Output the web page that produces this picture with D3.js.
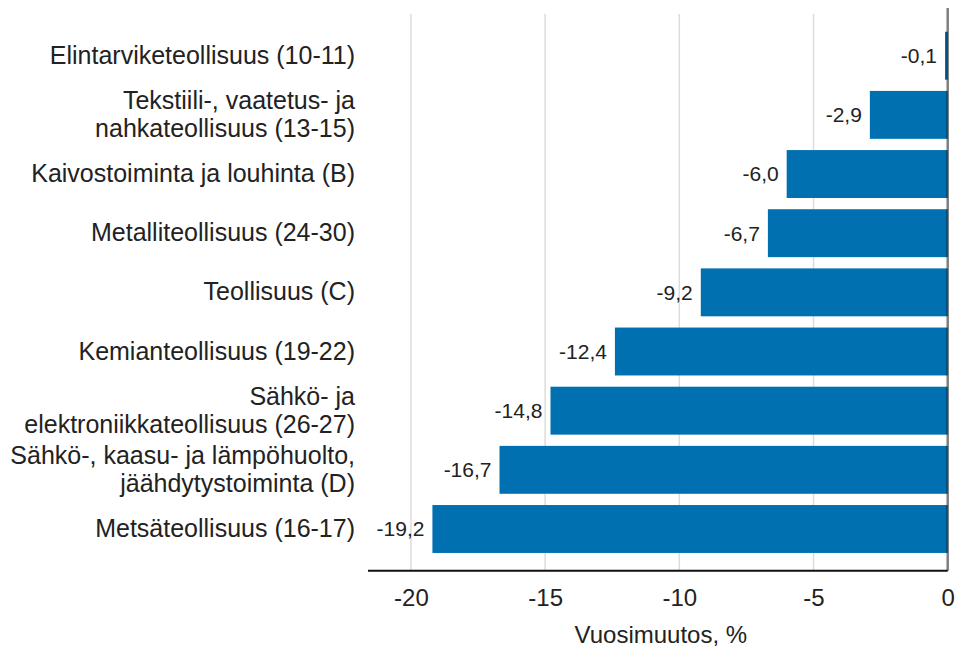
<!DOCTYPE html>
<html>
<head>
<meta charset="utf-8">
<script src="https://cdn.jsdelivr.net/npm/d3@7"></script>
<style>
    body { margin: 0; background: #fff; }
    svg { display: block; font-family: "Liberation Sans", Arial, sans-serif; }
</style>
</head>
<body>
<svg width="956" height="648"></svg>
<script>
const categories = [
    ["Elintarviketeollisuus (10-11)"],
    ["Tekstiili-, vaatetus- ja", "nahkateollisuus (13-15)"],
    ["Kaivostoiminta ja louhinta (B)"],
    ["Metalliteollisuus (24-30)"],
    ["Teollisuus (C)"],
    ["Kemianteollisuus (19-22)"],
    ["Sähkö- ja", "elektroniikkateollisuus (26-27)"],
    ["Sähkö-, kaasu- ja lämpöhuolto,", "jäähdytystoiminta (D)"],
    ["Metsäteollisuus (16-17)"]
];
const values = [-0.1, -2.9, -6.0, -6.7, -9.2, -12.4, -14.8, -16.7, -19.2];
const ticks = [-20, -15, -10, -5, 0];
const axisTitle = "Vuosimuutos, %";

const locale = d3.formatLocale({ decimal: ",", thousands: " ", grouping: [3], currency: ["", " €"], minus: "-" });
const fmtValue = locale.format(".1f");
const fmtTick = locale.format("d");

const svg = d3.select("svg");
const textColor = "#222";
const barColor = "#0070b0";

const x = d3.scaleLinear().domain([-21.6, 0]).range([368, 947.7]);
const y = d3.scaleBand()
    .domain(d3.range(values.length))
    .range([14, 570.7])
    .paddingInner(0.19)
    .paddingOuter(0.3);

// gridlines
svg.append("g")
    .selectAll("line")
    .data(ticks.filter((t) => t !== 0))
    .enter()
    .append("line")
    .attr("x1", (d) => x(d))
    .attr("x2", (d) => x(d))
    .attr("y1", 14)
    .attr("y2", 570.7)
    .attr("stroke", "#dcdcdc")
    .attr("stroke-width", 1.5);

// bars
svg.append("g")
    .selectAll("rect")
    .data(values)
    .enter()
    .append("rect")
    .attr("x", (d) => x(d))
    .attr("y", (d, i) => y(i))
    .attr("width", (d) => x(0) - x(d))
    .attr("height", y.bandwidth())
    .attr("fill", barColor);

// value labels
svg.append("g")
    .selectAll("text")
    .data(values)
    .enter()
    .append("text")
    .attr("x", (d) => x(d) - 8)
    .attr("y", (d, i) => y(i) + y.bandwidth() / 2)
    .attr("dy", "0.35em")
    .attr("text-anchor", "end")
    .attr("font-size", 21)
    .attr("fill", textColor)
    .text((d) => fmtValue(d));

// category labels
const lineH = 28;
const cat = svg.append("g")
    .selectAll("text")
    .data(categories)
    .enter()
    .append("text")
    .attr("text-anchor", "end")
    .attr("font-size", 25)
    .attr("fill", textColor)
    .attr("y", (d, i) => y(i) + y.bandwidth() / 2 + 8 - (d.length - 1) * lineH / 2)
    .attr("dy", "0.35em");

cat.selectAll("tspan")
    .data((d) => d)
    .enter()
    .append("tspan")
    .attr("x", 355)
    .attr("dy", (d, i) => (i === 0 ? 0 : lineH))
    .text((d) => d);

// x axis
const xAxis = svg.append("g")
    .attr("transform", "translate(0,570.7)")
    .call(d3.axisBottom(x).tickValues(ticks).tickFormat(fmtTick).tickSize(0).tickPadding(18));

xAxis.select(".domain")
    .attr("d", `M368,0H${x(0)}`)
    .attr("stroke", "#111")
    .attr("stroke-width", 2);

xAxis.selectAll("text")
    .attr("font-family", "Liberation Sans, Arial, sans-serif")
    .attr("font-size", 24)
    .attr("fill", textColor);

// zero line
svg.append("line")
    .attr("x1", x(0))
    .attr("x2", x(0))
    .attr("y1", 8)
    .attr("y2", 570.7)
    .attr("stroke", "#000")
    .attr("stroke-opacity", 0.5)
    .attr("stroke-width", 2.5);

// axis title
svg.append("text")
    .attr("x", (x.range()[0] + x.range()[1]) / 2 + 3)
    .attr("y", 635)
    .attr("dy", "0.35em")
    .attr("text-anchor", "middle")
    .attr("font-size", 24)
    .attr("fill", textColor)
    .text(axisTitle);
</script>
</body>
</html>
